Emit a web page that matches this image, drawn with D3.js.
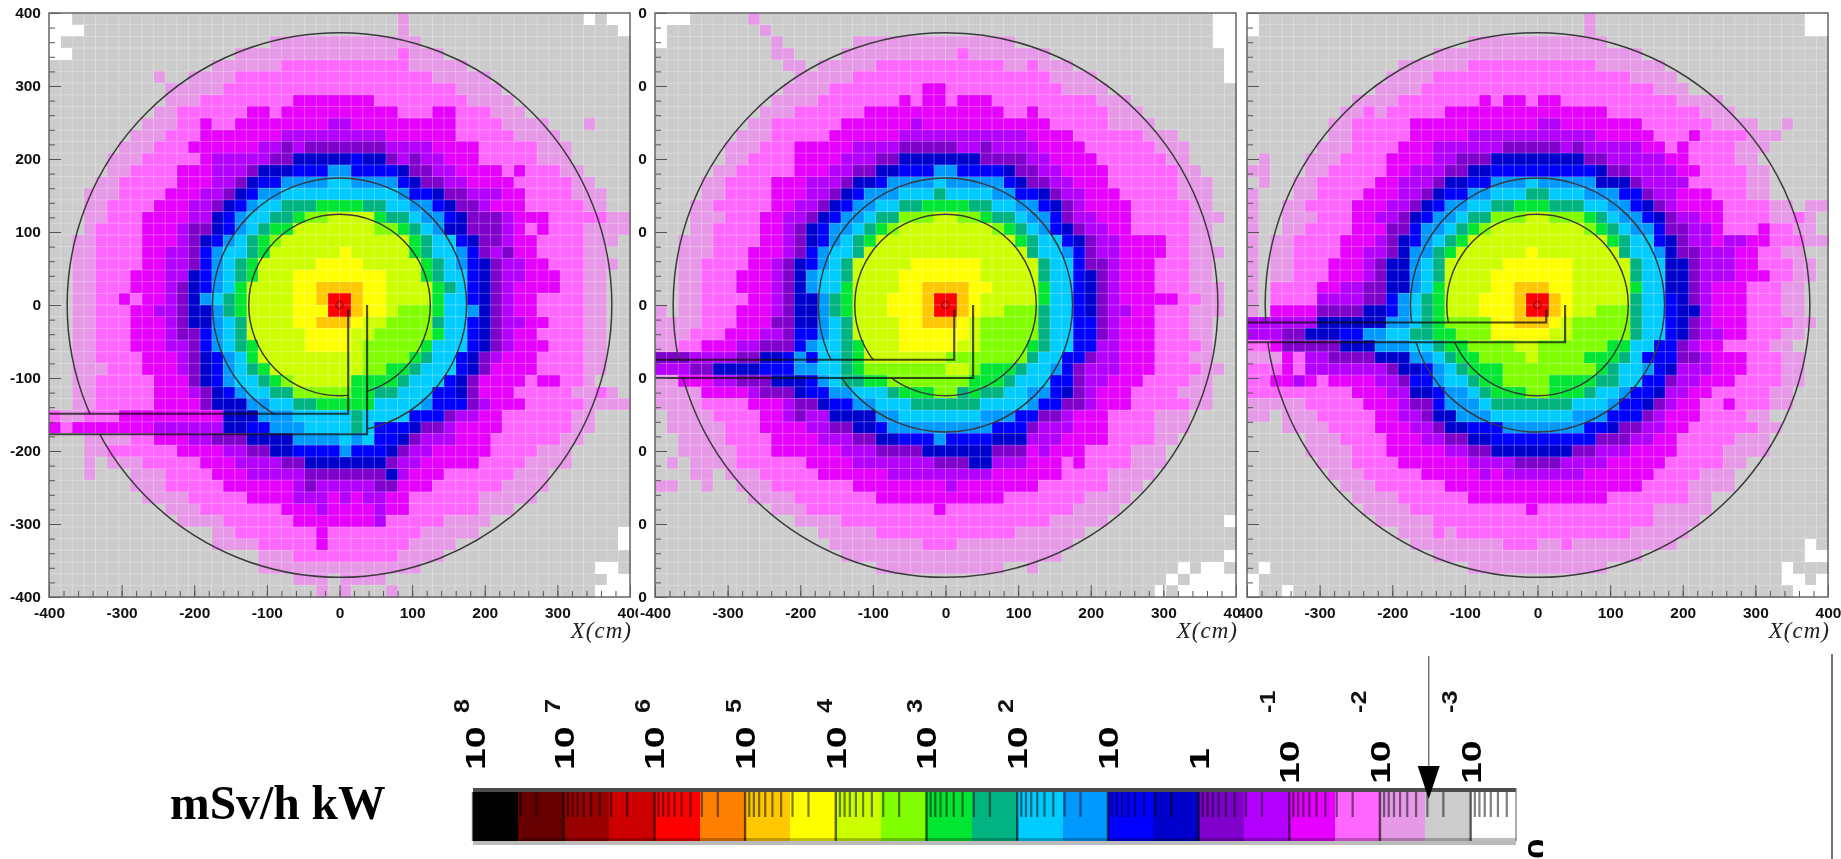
<!DOCTYPE html>
<html><head><meta charset="utf-8">
<script src="https://cdnjs.cloudflare.com/ajax/libs/d3/7.8.5/d3.min.js"></script>
<style>html,body{margin:0;padding:0;background:#fff;overflow:hidden}svg{display:block;filter:blur(0.5px)}</style>
</head><body><svg id="c" width="1841" height="859"></svg>
<script>
// Dose-rate level per map cell, run-length coded per row (top row first); each row covers 50 bins.
const panel1Rows = [
"2_ 28. L 15. _ . 2_","3_ 27. L 18. _","_ 18. 13L 18.","2_ 14. 14L K 3L 16.","14. 6L 11K 5L 14.",
"9. L 2. 4L 17K 5L 12.","10. 5L 20K 4L 11.","10. 3L 8K 7M 8K 4L 10.","9. 2L 6K 2M K 10M 3K 2M 3K 3L 9.","8. 3L 2K M 2K 8M 2P 9M 4K 4L 3. L 3.",
"7. 3L 3K 7M 9P 6M 5K 4L 6.","6. 3L 3K 6M 2P V P 7V 4P 4M 5K 3L 5.","5. 3L 5K M 5P 2V 5D B 2D V P V 2P 3M 5K 3L 5.","5. 2L 4K 3M 3P V 3D 3B 2b 4B D 2V 2P 4M K M 3K 2L 4.","4. 2L 5K 3M 2P V D 2B 4b 2c 4b B D 2V 2P 4M 5K 2L 3.",
"3. 3L 4K 3M 2P V D B 2b 10c b 2B D 2V 3P 2M 4K 3L 2.","3. 2L 4K 3M 2P V D B b 2c 3t 4G 2t 2c 2b B D 2V P 3M 5K 2L 2.","3. 2L 3K 4M 2P D B b 2c 2t G 2g 4l G 2t c 2b B D 3V P 3M 5K 2L 2.","3. L 4K 3M P 2V D B b c t 2G 7l 2g G t c b 2D 3V P M K M 3K 4L","2. 2L 4K 3M P V D B b c t G g 11l G t 2c B D 2V P 2M 4K 3L .",
"2. 2L 4K 2M 2P V B b 2c t G 6l y 5l G t 2c b B V P V 2M 4K 2L 2.","2. 2L 4K 2M 2P V B b c t G 5l 4y 5l G t c b B D V 2P 2M 3K 3L 2.","2. 2L 3K 3M 2P D B b c t G 3l 8y 3l G t 2c B D V 2P 3M 2K 2L 2.","2. 2L 3K 3M P V D B b c G 4l 2y 4o 2y 4l G t c B D V P 4M 2K 2L 2.","2. 2L 2K M K 2M P V D b c t G 4l 2y o 2r o 2y 4l G 2c B D V P 2M 4K 2L 2.",
"2. 2L 3K 2M 2P V 2D b t G 4l 3y 2r o 2y l 3g G 2c b D V P 2M 4K 2L 2.","2. 2L 3K 3M P V 2D b c t 4l 2y 3o y 2l 4g t 2c B D V 2P 2M 3K 2L 2.","2. 2L 3K 3M P 2V B b c t 5l 4y 2l 5g G 2c B D V P 2M 4K 2L 2.","2. 2L 3K 3M 2P V B b c t G 4l 4y l 5g G 3c B D V P 3M 3K 2L 2.","2. 2L 4K 3M P V D B b c G 9l 4g G t 2c B D V P 3M 4K 2L 2.",
"2. 3L 3K 3M P V D B b c t G 8l 2g 2G t 3c B D V 4M 4K 2L 2.","2. 2L 5K 3M V D B b 2c t G g 5l 4G t 3c B D V 4M K 2M 2K L 3.","2. 2L 5K 3M P V D B b 2c 2t 5g 2G 2t 3c 2B D V 3M 5K 2L K L .","2. 2L 5K 4M V 3D 2b 2c 2t 5G 4c b 3B V P 3M 5K 4L","K 2L 3K 9M 3D 3b 5c t 4c 3B V 2P 2M 6K 2L 3.",
"M K 7M 6P 2D 2B 3b 4c t c 3B D 2V P 4M 6K 2L 3.","3. 4L 2K 3M 2P 3V 4D 4b c b c 2B D V 3P 3M 6K 2L 4.","3. 2L 6K 4M 2P 2V 2D 4B b 3B D V 2P 5M 4K 3L 5.","3. L . 3L 5K 3M 4P 2V 7D V 2P 5M 4K 4L 5.","3. L 3. 3L 4K 3M 5P 7V D P 3M 6K 3L 7.",
"7. 3L 5K 6M P V 5P 2V 3M 6K 4L 7.","8. 4L 5K 4M 3P M P M 2P 2M 6K 5L 8.","10. 3L 7K 3M P 4M P 2M 6K 3L 10.","11. 4L 6K 7M P 5K 4L 12.","14. 2L 7K M 8K 5L 12. _",
"14. 4L 5K M 7K 4L 14. _","18. 3L 9K 4L 16.","18. 14L 15. 2_ .","21. 3L . 4L 19. 2_","23. L . L 3. L 17. 3_"];
const panel2Rows = [
"3_ 5. L 39. 2_","_ 8. L 38. 2_","_ 9. L 6. 14L 17. 2_","10. 2L 4. 10L K 7L 15. _","11. 2L . 5L 11K 2L K 3L 13. _",
"12. 5L 17K 4L 11. _","11. 4L 8K 2M 10K 4L 11.","10. 4L 7K M K 2M K 3M 9K 3L 9.","9. 3L 6K 12M 2K M 6K 3L 8.","8. 2L 6K 6M P 11M 5K 4L 7.",
"7. 3L 5K 6M 11P 4M 6K 3L 5.","6. 3L 3K 5M 4P 5V 2P V 4P 4M 6K 3L 4.","6. 2L 4K 4M 3P 2V 7D 4V 2P 4M 6K 2L 4.","5. 2L 5K 3M 2P 2V 2D 3B 2b 4B D 2V 2P 4M 6K 2L 3.","4. 2L 4K 3M 3P V 2D B 4b c 5b B D 2V 2P 3M 6K 3L 2.",
"4. 2L 4K 3M 2P V D B 3b 3c t 4c 2b 2B D V 2P 3M 5K 3L 2.","3. 2L 5K 2M 2P V D B 2b 2c 2t 4G 2t 2c 2b B D V P 4M 5K 2L 2.","3. 3L 3K 2M 2P V D B 2b c 2t 3g 2l 2g G 2t c 2b B V 2P 3M 5K 3L .","3. 2L 4K 2M P V D B 2b c t G g 8l g G t c b B D V 2P 2M 5K 2L 2.","2. 3L 4K 2M P V D B b c t G 12l G t 2c B D V 2P 4M 2K 2L 2.",
"2. 3L 3K 3M P V B b 2c t 14l t 2c b B V 2P 4M 2K 3L .","2. 2L 4K 2M P V D B b c t 5l 6y 5l t 2c B 2V P 3M 3K 2L 2.","2. 2L 3K 3M P V D b 2c t 4l 7y 5l t 2c B D V P 3M 3K 2L 2.","2. 2L 3K 3M P V D b 2c G 4l 2y 4o 2y 4l G 2c B D V P 3M 3K 3L .","2. 2L 4K 2M P V 2D b t G 3l 3y o 2r o y 5l G 2c B D V P 5M 2K 2L .",
"L . 2L 3K 3M P V 2D b t G 3l 3y o 2r o y 2l 3g t 2c B D V 2P 2M 3K 3L .","4L 3K 3M 2V 2D b c t 4l 2y 3o y l 5g t 2c 2B V P 3M 3K 2L 2.","3L 3K 3M 2P V 2B b c t 4l 6y l 5g t 2c 2B V P 3M 3K 2L 2.","2L 2K 3M 2P 3V B b 2c t G 3l 5y 2l 4g G t 2c 2B 2P 3M 4K L 2.","3V 4P 2V 2D B b B 2c t G 7l 7g t 2c 2B V 2P 3M 3K 2L 2.",
"3P 2V 4D 3B 2b 2c t G 7g 2l g 3G t 2c b B V 3P 3M 4K 2L .","2L 3M 2P 3V 3D B b c 2t 2G 7g 3G t 3c 2B V 2P 3M 4K 2L 2.","4L 4M P 3V D 2B 2b 3c t 3G 2g t G 2t 2c 2b B D V P 3M 4K 3L 2.","4L 4K 3M P 2V D 2B 2b 3c 6t 4c b 2B 2V P 3M 5K 2L 2.",". 4L 4K 2M P V 2P 4D 2b 7c 3b 2B 2V P 3M 4K 3L 4.",
". 5L 3K 4M 2P 2V 2D B 9b 3B V 3P 3M 4K 3L 4.","2. 4L 4K 4M 3P 2V 2D 3B b 4B 3D 3P 4M 4K 2L 5.","2. 5L 3K 6M 3P 4V 6D 3V M P 3M 4K 3L 6.",". L . 4L 6K 4M 7P 3V 2D 3P 3M K M 4K 3L 6.","3. 2L . 3L 5K 6M 9P 6M 4K 4L 7.",
"2L 2. L 2. 3L 7K 8M P 7M 6K 3L 8.","8. 4L 7K 11M 7K 4L 9.","10. 3L 11K M 11K 4L 10.","12. 4L 18K 5L 10. _","14. 5L 12K 6L 13.",
"15. 8L 3K 10L 14.","16. 19L 14. _","19. 11L 2. L 12. _ . 2_ .","44. _ . 4_","43. _ . 5_"];
const panel3Rows = [
"_ 28. L 18. 2_","_ 28. L 18. 2_","19. 12L 19.","16. 18L 16.","13. 6L 11K 6L 14.",
"12. 4L 17K 4L 13.","11. 4L 20K 3L 12.","9. 4L 7K M K 2M K 2M 10K 4L 9.","8. 2L K L 5K 14M 8K 3L 8.","7. 2L 5K 11M 2P 7M 6K 4L 2. L 3.",
"7. 2L 5K 5M 11P 5M 3K M 4K 3L 4.","6. 3L 4K 3M 6P 5V P V 5P 2M K M 4K 3L 5.",". L 3. 3L 4K 4M 2P 3V 8D 2V 5P 2M 4K 2L 6.","2L 3. 2L 5K 2M 3P 2V 2D 9B D 2V 4P 2M 4K 2L 5.",". L 2. 2L 5K 2M 3P V 2D 2B 3b c 5b 3D V 4P 5K 2L 5.",
"L 3. 2L 4K 3M 2P V D 2B 2b 3c 2t 3c 3b 2B V 2P 3M 3K 2L 5.","L 2. 2L 4K 3M 2P V D B 2b 2c 2t 3G 3t 2c 2b B D V P 4M 4K 2L . 2L","L 2. 3L 3K 2M 2P V D B 2b c 2t 3g 2l 3g G t c 2b B D V 2P 2M 4K 2L K L .","L 2. 2L 4K 3M 2V B 2b c t G g 8l g G t c 2b B 2V 2P M 3K M 2K 2L .","L . 2L 4K 3M P V D B b c t G 12l G t 2c B D V 2P M 2P 2M 3K 2L .",
"L . 2L 4K 2M 2P V D 2b t G 6l y 7l t 2c b D 2V 3P 2M 2K 2L 2.","L . 2L 3K 3M P V 2D b c t 5l 6y 5l t 2c 2D V 3P 2M 3K 2L .","L . 2L 3K 3M P V 2D b c t 4l 7y 5l t 2c 2D V 3P 3M 2K 2L .","L . 4K 2M 2P 2V 2D b c G 4l 2y 3o 2y 5l G 2c 2D V P 3M 3K 2L 2.","L . 4K 4P 2V B b c t G 3l 3y o 2r o y 5l t 2c B D V P 3M 3K 2L 2.",
"L . 4M 4V 2D B b c t G 3l 3y o 2r o y 2l 3g t 2c B 2D P 3M 3K 2L 2.","6P 6D 2b c t G 4g 2y 3o y l 5g t 2c B D V P 3M 4K 2L .","3P 2V 3D 2B 2b 2c 2t 2G 3g 5y 2l 5g t 2c B D V 2P 2M 3K 2L 2.","2K M 5V 3D 3b 2c t 2G 4g 2l 6g 2G 2c 2B V P 2M 4K 2L 3.","3L M K 2P 4V 3D 2b c t 2G 4g l 4g 3G t c 3B 2V P 3M 3K 2L 2.",
"3K M K 7P V 2D B b c t 3G 8g G t 2c b B D 3P 3M 3K 2L 2.","2K 2M P M K 4M 2P V 2B b 2c t 2G 4g 4G 2t 2c 2B V 2P 3M 4K 2L 2.","9K 3M 2P 2D B 2b c t 3G 2g 3G t 2c b 2B D 2P 2M 5K 2L 3.","5L 5K 3M P 2V B 3b c 7t 3c b 2B D V P 2M 2K M 3K 2L 3.","2L . 3L 5K 2M 2P V 2D 3b 7c 3b 3B V P 3M 4K 2L 5.",
"3. 4L 4K 3M 2P V 2D 3B 7b 2B D 2V 2P 2M 6K 2L 4.","5. 3L 4K 3M 2P 2V 2D 9B 3V 2P 2M 5K 3L 5.","5. 4L 3K 5M 2P 2V 7D 2V 3P 4M 4K 4L 5.","6. 3L 4K 6M 4P 4V 4P 5M 5K 2L 7.","7. 3L 5K 5M P M 7P 6M 4K 3L 8.",
"8. 3L 6K 17M 4K 4L 8.","9. 4L 6K 12M 7K 2L 10.","10. 4L 10K M 10K 5L 10.","11. 5L 19K 4L 11.","13. 3L K L 15K 5L 12.",
"14. 8L 3K 2L K 9L 11. _ .","16. 18L 14. 2_",". _ 17. 12L 15. _ 3.","_ 45. 2_ . _","_ 2. _ 43. 3_"];

const levelKeys   = ["r","o","y","l","g","G","t","c","b","B","D","V","P","M","K","L",".","_"];
const levelColors = ["#ff0000","#ffc800","#ffff00","#ccff00","#80ff00","#00e632","#00b380","#00ccff","#0099ff","#0000ff","#0000cc","#8000cc","#b300ff","#e600ff","#ff66ff","#e699e6","#cccccc","#ffffff"];
const axisMin = -400, axisMax = 400, binWidth = 16;
const xTicks = [-400,-300,-200,-100,0,100,200,300,400];
const ringRadii = [375,175,125];
const coreRadius = 5;
const ductInnerX = 12, ductOuterX = 38;
const ductUpperY = [-149,-75,-24];
const ductLowerY = [-177,-100,-51];

const legendColors = ["#000000","#660000","#990000","#cc0000","#ff0000","#ff8000","#ffc800","#ffff00","#ccff00","#80ff00","#00e632","#00b380","#00ccff","#0099ff","#0000ff","#0000cc","#8000cc","#b300ff","#e600ff","#ff66ff","#e699e6","#cccccc","#ffffff"];
const legendExponents = [8,7,6,5,4,3,2,1,0,-1,-2,-3];
const legendUnit = "mSv/h kW";
const arrowValue = 0.0029;
const xTitle = "X(cm)";

const panelsLayout = [
 {left:49,  clipL:0,    clipR:638,  rows:panel1Rows},
 {left:655, clipL:638,  clipR:1241, rows:panel2Rows},
 {left:1247,clipL:1240, clipR:1841, rows:panel3Rows}];
const plotW = 581, plotH = 584, plotT = 13;

const svg = d3.select("#c");
const defs = svg.append("defs");
const sans = "'Liberation Sans',Arial,sans-serif", serif = "'Liberation Serif','Times New Roman',serif";
const colorOf = d3.scaleOrdinal(levelKeys, levelColors);
const expand = s => { let o=""; for (const m of s.matchAll(/(\d*)(\S)/g)) o += m[2].repeat(+m[1]||1); return o.padEnd(50,"."); };

panelsLayout.forEach((p,pi) => {
  const x = d3.scaleLinear([axisMin,axisMax],[p.left,p.left+plotW]);
  const y = d3.scaleLinear([axisMin,axisMax],[plotT+plotH,plotT]);
  defs.append("clipPath").attr("id","pc"+pi).append("rect").attr("x",p.clipL).attr("y",0).attr("width",p.clipR-p.clipL).attr("height",660);
  const g = svg.append("g").attr("clip-path",`url(#pc${pi})`);
  const cells = p.rows.flatMap((r,ri) => Array.from(expand(r)).slice(0,50).map((k,ci) => ({k,ci,ri})));
  g.append("g").attr("shape-rendering","crispEdges").selectAll("rect").data(cells).join("rect")
    .attr("x",d=>x(axisMin+d.ci*binWidth)).attr("y",d=>y(axisMax-d.ri*binWidth))
    .attr("width",x(binWidth)-x(0)+0.6).attr("height",y(0)-y(binWidth)+0.6).attr("fill",d=>colorOf(d.k));
  const edges = d3.range(axisMin+binWidth,axisMax,binWidth);
  const grid = g.append("g").attr("stroke","#fff").attr("stroke-opacity",0.28).attr("stroke-width",1);
  grid.selectAll("line.v").data(edges).join("line").attr("class","v").attr("x1",d=>x(d)).attr("x2",d=>x(d)).attr("y1",plotT).attr("y2",plotT+plotH);
  grid.selectAll("line.h").data(edges).join("line").attr("class","h").attr("y1",d=>y(d)).attr("y2",d=>y(d)).attr("x1",p.left).attr("x2",p.left+plotW);

  // rings are interrupted where the duct runs
  const clipId = "duct"+pi;
  const xa = x(axisMin), xb = x(ductOuterX), xc = x(ductInnerX), yu = y(ductUpperY[pi]), yl = y(ductLowerY[pi]), y0 = y(0);
  defs.append("clipPath").attr("id",clipId).append("path").attr("clip-rule","evenodd")
    .attr("d",`M${xa} ${plotT}H${xa+plotW}V${plotT+plotH}H${xa}Z M${xc} ${y0-4}H${xb}V${yl}H${xa}V${yu}H${xc}Z`);
  g.append("g").attr("clip-path",`url(#${clipId})`).selectAll("circle").data(ringRadii).join("circle")
    .attr("cx",x(0)).attr("cy",y(0)).attr("r",d=>x(d)-x(0)).attr("fill","none").attr("stroke","#3a3a3a").attr("stroke-width",1.5);
  g.append("circle").attr("cx",x(0)).attr("cy",y(0)).attr("r",x(coreRadius)-x(0)).attr("fill","none").attr("stroke","#6a1010").attr("stroke-width",1);
  const line = d3.line().x(d=>x(d[0])).y(d=>y(d[1]));
  g.append("path").attr("d",line([[ductInnerX,-6],[ductInnerX,ductUpperY[pi]],[axisMin,ductUpperY[pi]]])).attr("fill","none").attr("stroke","#111").attr("stroke-opacity",0.75).attr("stroke-width",2.1);
  g.append("path").attr("d",line([[ductOuterX,0],[ductOuterX,ductLowerY[pi]],[axisMin,ductLowerY[pi]]])).attr("fill","none").attr("stroke","#111").attr("stroke-opacity",0.75).attr("stroke-width",2.1);

  const minorT = d3.range(axisMin,axisMax+1,20);
  const styleAxis = a => { a.select(".domain").remove(); a.selectAll("line").attr("stroke","#555").attr("stroke-width",1); };
  const styleText = a => a.selectAll("text").attr("font-family",sans).attr("font-size",15.5).attr("font-weight","bold").attr("fill","#111");
  g.append("g").attr("transform",`translate(0,${plotT+plotH})`).call(d3.axisBottom(x).tickValues(minorT).tickSize(-6).tickFormat("")).call(styleAxis);
  g.append("g").attr("transform",`translate(${p.left},0)`).call(d3.axisLeft(y).tickValues(minorT).tickSize(-6).tickFormat("")).call(styleAxis);
  g.append("g").attr("transform",`translate(0,${plotT+plotH})`).call(d3.axisBottom(x).tickValues(xTicks).tickSize(-12).tickPadding(10).tickFormat(String)).call(styleAxis).call(styleText);
  g.append("g").attr("transform",`translate(${p.left},0)`).call(d3.axisLeft(y).tickValues(xTicks).tickSize(-12).tickPadding(8).tickFormat(String)).call(styleAxis).call(styleText);
  g.append("rect").attr("x",p.left).attr("y",plotT).attr("width",plotW).attr("height",plotH).attr("fill","none").attr("stroke","#666").attr("stroke-width",1.5);
  g.append("text").attr("x",p.left+plotW+2).attr("y",638).attr("text-anchor","end").attr("font-family",serif).attr("font-style","italic").attr("font-size",23).attr("letter-spacing",1).attr("fill","#222").text(xTitle);
});

// colour scale
const lx = d3.scaleLog([1e8,Math.pow(10,-3.5)],[473,1516]);
const segW = (lx.range()[1]-lx.range()[0])/legendColors.length;
const barT = 792, barB = 841;
const lg = svg.append("g");
lg.append("rect").attr("x",473).attr("y",841).attr("width",1043).attr("height",4).attr("fill","#bbb");
lg.append("g").attr("shape-rendering","crispEdges").selectAll("rect").data(legendColors).join("rect")
  .attr("x",(d,i)=>lx.range()[0]+i*segW).attr("y",barT).attr("width",segW+0.5).attr("height",barB-barT).attr("fill",d=>d);
lg.append("rect").attr("x",473).attr("y",838).attr("width",1043).attr("height",3).attr("fill","#000").attr("opacity",0.25);
const minorTicks = [];
for (let n=8;n>=-4;n--) for (let k=2;k<=9;k++){ const v=k*Math.pow(10,n); if(v<1e8&&v>Math.pow(10,-3.5)) minorTicks.push(v); }
lg.selectAll("line.mi").data(minorTicks).join("line").attr("class","mi").attr("x1",d=>lx(d)).attr("x2",d=>lx(d)).attr("y1",barT).attr("y2",817).attr("stroke","#000").attr("stroke-opacity",0.5).attr("stroke-width",2.2);
lg.selectAll("line.ma").data(legendExponents).join("line").attr("class","ma").attr("x1",d=>lx(Math.pow(10,d))).attr("x2",d=>lx(Math.pow(10,d))).attr("y1",barT).attr("y2",barB).attr("stroke","#000").attr("stroke-opacity",0.6).attr("stroke-width",2.4);
lg.append("rect").attr("x",473).attr("y",788).attr("width",1043).attr("height",4).attr("fill","#4c4c4c");
lg.append("line").attr("x1",1516).attr("x2",1516).attr("y1",788).attr("y2",841).attr("stroke","#777").attr("stroke-width",1.2);
// tick labels, rotated
const baseLabel = e => e===0 ? "1" : "10";
const supLabel  = e => (e===0||e===1) ? "" : String(e);
const rot = (px,py,sx) => `translate(${px},${py}) rotate(-90) scale(${sx},1)`;
lg.selectAll("text.b").data(legendExponents).join("text").attr("class","b")
  .attr("transform",d=>rot(lx(Math.pow(10,d))+10+(d===8?2:0), d<0?784:770, 1.4))
  .attr("font-family",sans).attr("font-weight","bold").attr("font-size",28).attr("fill","#000").text(baseLabel);
lg.selectAll("text.s").data(legendExponents).join("text").attr("class","s")
  .attr("transform",d=>rot(lx(Math.pow(10,d))+(d<0?-14:-4), 713, 1.15))
  .attr("font-family",sans).attr("font-weight","bold").attr("font-size",22).attr("fill","#111").text(supLabel);
// clipped label at the bar end
defs.append("clipPath").attr("id","endc").append("rect").attr("x",1525).attr("y",830).attr("width",18).attr("height",29);
lg.append("g").attr("clip-path","url(#endc)").append("text").attr("transform",rot(1547,859,1.32)).attr("font-family",sans).attr("font-weight","bold").attr("font-size",28).attr("fill","#000").text("0");
// pointer
const ax = lx(arrowValue);
lg.append("line").attr("x1",ax).attr("x2",ax).attr("y1",656).attr("y2",770).attr("stroke","#777").attr("stroke-width",1.5);
lg.append("path").attr("d",`M${ax-11} 766H${ax+11}L${ax} 799Z`).attr("fill","#000");
lg.append("line").attr("x1",1832).attr("x2",1832).attr("y1",654).attr("y2",859).attr("stroke","#777").attr("stroke-width",2);
svg.append("text").attr("x",170).attr("y",819).attr("font-family",serif).attr("font-weight","bold").attr("font-size",47.6).attr("fill","#000").text(legendUnit);
</script></body></html>
